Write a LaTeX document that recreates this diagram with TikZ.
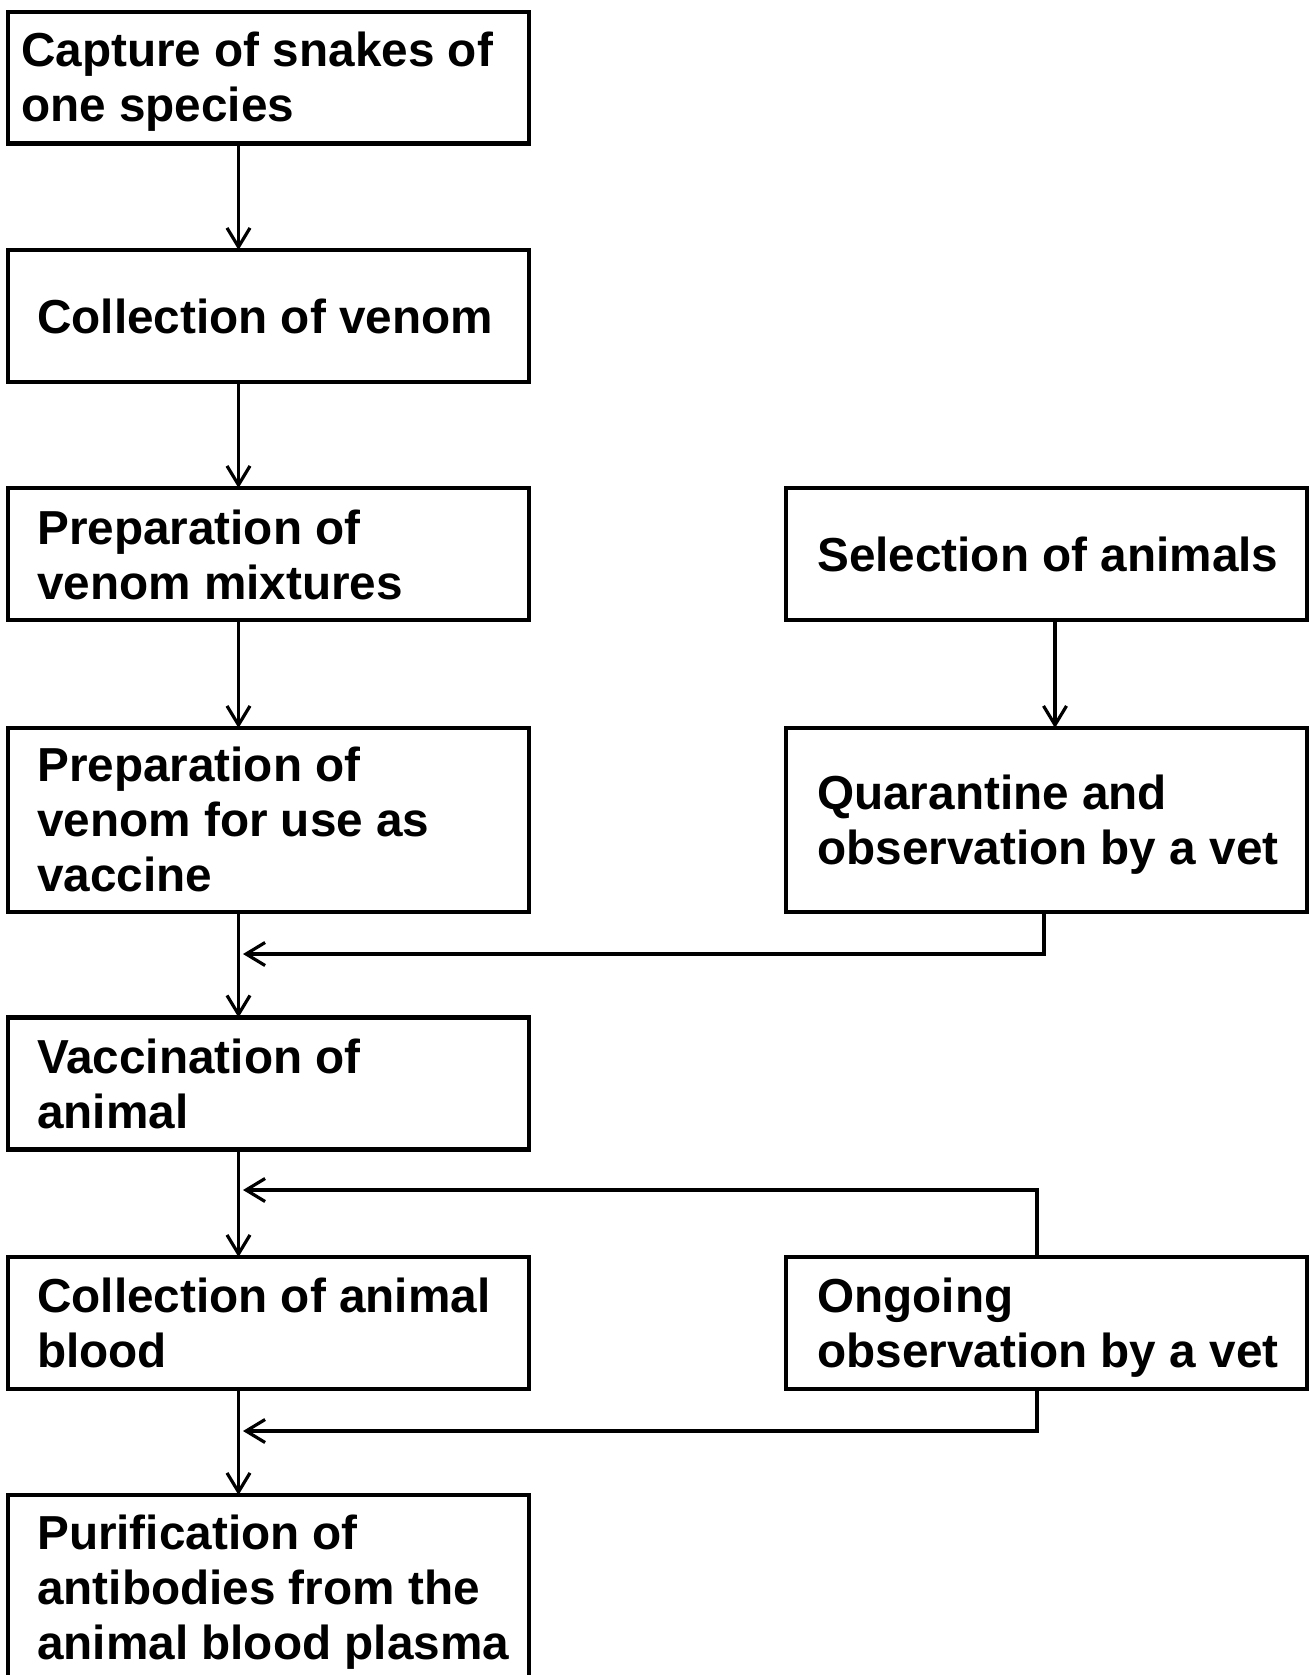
\documentclass[tikz,border=0pt]{standalone}
\usepackage{fontspec}
\setmainfont{Liberation Sans}
\usetikzlibrary{arrows.meta}
\begin{document}
\begin{tikzpicture}[x=1pt,y=-1pt,
  box/.style={draw=black, line width=4.2pt, rectangle, inner sep=0pt, outer sep=0pt,
              anchor=north west, minimum width=521pt},
  txt/.style={anchor=base west, inner sep=0pt, align=left,
              font=\fontsize{47.7pt}{55pt}\selectfont\bfseries},
  conn/.style={line width=3.2pt, draw=black,
               -{Straight Barb[length=19pt,width=23pt,line width=3.2pt]}}]
\useasboundingbox (0,0) rectangle (1309,1675);

% left column boxes
\node[box, minimum height=131.8pt] (b1) at (8.3,11.7) {};
\node[box, minimum height=132pt] (b2) at (8.3,250) {};
\node[box, minimum height=132pt] (b3) at (8.3,488) {};
\node[box, minimum height=184pt] (b4) at (8.3,728) {};
\node[box, minimum height=132pt] (b5) at (8.3,1017.5) {};
\node[box, minimum height=132pt] (b6) at (8.3,1257) {};
\node[box, minimum height=220pt] (b7) at (8.3,1495) {};
% right column boxes
\node[box, minimum height=132pt] (s) at (786,488) {};
\node[box, minimum height=184pt] (q) at (786,728) {};
\node[box, minimum height=132pt] (o) at (786,1257) {};

% texts (base = baseline of the last line)
\node[txt] (t1) at (21,122) {Capture of snakes of\\one species};
\node[txt] (t2) at (37,333) {Collection of venom};
\node[txt] (t3) at (37,599.1) {Preparation of\\venom mixtures};
\node[txt] (t4) at (37,891.9) {Preparation of\\venom for use as\\vaccine};
\node[txt] (t5) at (37,1128.6) {Vaccination of\\animal};
\node[txt] (t6) at (37,1367.6) {Collection of animal\\blood};
\node[txt] (t7) at (37,1659) {Purification of\\antibodies from the\\animal blood plasma};
\node[txt] (ts) at (817,571.6) {Selection of animals};
\node[txt] (tq) at (817,864.4) {Quarantine and\\observation by a vet};
\node[txt] (to) at (817,1367.6) {Ongoing\\observation by a vet};

% helper coordinates
\coordinate (colx) at (238.5,0);
\coordinate (sx) at (1055,0);
\coordinate (qx) at (1044,0);
\coordinate (ox) at (1037,0);
\coordinate (m1) at (243,954);
\coordinate (m2) at (243,1190);
\coordinate (m3) at (243,1431);

% main flow
\draw[conn] (b1.south -| colx) -- (b2.north -| colx);
\draw[conn] (b2.south -| colx) -- (b3.north -| colx);
\draw[conn] (b3.south -| colx) -- (b4.north -| colx);
\draw[conn] (b4.south -| colx) -- (b5.north -| colx);
\draw[conn] (b5.south -| colx) -- (b6.north -| colx);
\draw[conn] (b6.south -| colx) -- (b7.north -| colx);
\draw[conn] (s.south -| sx) -- (q.north -| sx);

% side inputs
\draw[conn] (q.south -| qx) |- (m1);
\draw[conn] (o.north -| ox) |- (m2);
\draw[conn] (o.south -| ox) |- (m3);
\end{tikzpicture}
\end{document}
